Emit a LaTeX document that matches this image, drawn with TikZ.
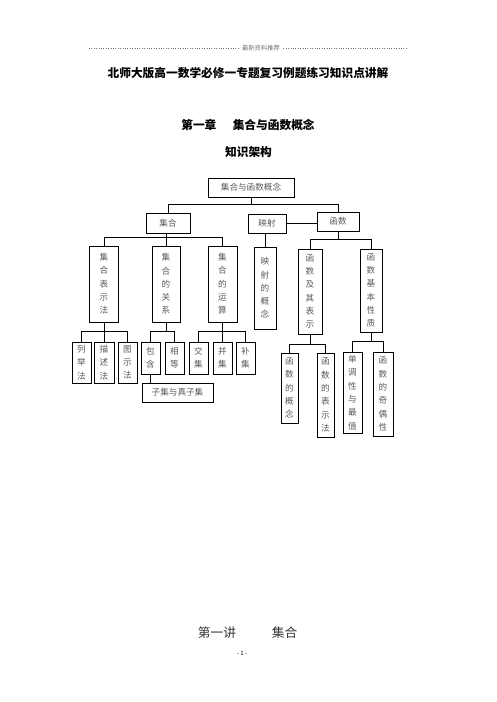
\documentclass[tikz,border=0pt]{standalone}
\usepackage{fontspec}
\setmainfont{Noto Sans CJK SC}
\usepackage{xcolor}
\definecolor{boxtext}{gray}{0.35}
\definecolor{headgray}{gray}{0.45}

\begin{document}
\begin{tikzpicture}[
    x=1pt, y=-1pt,
    box/.style={draw, line width=1pt, inner sep=0pt, align=center, text=boxtext,
        font=\fontsize{8.6}{13.3}\selectfont},
    vbox/.style={box, minimum width=#1},
    link/.style={line width=0.8pt},
    heading/.style={font=\fontsize{11.7}{14}\selectfont\bfseries}
]
\useasboundingbox (0,0) rectangle (496,702);

% page head
\node (head) at (261,48) {\textcolor{headgray}{\fontsize{6.3}{7}\selectfont 最新资料推荐}};
\draw[dotted, headgray] (89,48) -- (head.west);
\draw[dotted, headgray] (head.east) -- (407,48);

\node[heading] (title) at (248,73) {北师大版高一数学必修一专题复习例题练习知识点讲解};
\node[heading] (chapter) at (248,125) {第一章\hspace{1.4em}集合与函数概念};
\node[heading] (frame) at (248.5,152) {知识架构};

% bus levels
\coordinate (lv1) at (0,204);
\coordinate (lv2) at (0,237);
\coordinate (lv2r) at (0,239);
\coordinate (lv3) at (0,331);
\coordinate (lv4) at (0,344);
\coordinate (lv4r) at (0,341);

% level 0 and 1
\node[box, minimum width=86, minimum height=19] (top) at (251,187.5) {集合与函数概念};
\node[box, minimum width=44, minimum height=20] (jihe) at (168,223) {集合};
\node[box, minimum width=38, minimum height=19] (yingshe) at (267,223.5) {映射};
\node[box, minimum width=42, minimum height=19] (hanshu) at (338,221.5) {函数};

% level 2
\node[vbox=29, minimum height=76] (bsf) at (104,284) {集\\合\\表\\示\\法};
\node[vbox=28, minimum height=76] (gx) at (166,284) {集\\合\\的\\关\\系};
\node[vbox=29, minimum height=76] (ys) at (222.5,284) {集\\合\\的\\运\\算};
\node[vbox=22, minimum height=82] (ysgn) at (265,288) {映\\射\\的\\概\\念};
\node[vbox=24, minimum height=85] (hsbs) at (310,291.5) {函\\数\\及\\其\\表\\示};
\node[vbox=22, minimum height=83] (hsxz) at (371,290.5) {函\\数\\基\\本\\性\\质};

% level 3
\node[vbox=19, minimum height=41] (ljf) at (81.5,362.5) {列\\举\\法};
\node[vbox=20, minimum height=41] (msf) at (104,362.5) {描\\述\\法};
\node[vbox=19, minimum height=41] (tsf) at (127.5,362.5) {图\\示\\法};
\node[vbox=19, minimum height=32] (bh) at (150.5,358) {包\\含};
\node[vbox=19, minimum height=32] (xd) at (174.5,358) {相\\等};
\node[vbox=19, minimum height=32] (jj) at (198.5,358) {交\\集};
\node[vbox=19, minimum height=32] (bj) at (222.5,358) {并\\集};
\node[vbox=19, minimum height=32] (buj) at (245.5,358) {补\\集};
\node[box, minimum width=71, minimum height=19] (zj) at (177.5,392.5) {子集与真子集};
\node[vbox=17, minimum height=70] (hsgn) at (289.5,388) {函\\数\\的\\概\\念};
\node[vbox=17, minimum height=84] (hsbsf) at (325.5,395) {函\\数\\的\\表\\示\\法};
\node[vbox=19, minimum height=81] (ddx) at (352.5,392.5) {单\\调\\性\\与\\最\\值};
\node[vbox=20, minimum height=84] (jox) at (383,394) {函\\数\\的\\奇\\偶\\性};

% connectors
\draw[link] (top.south) -- (top.south |- lv1);
\draw[link] (jihe.north) |- (lv1 -| hanshu.north) -- (hanshu.north);
\draw[link] (yingshe.east) -- (yingshe.east -| hanshu.west);
\draw[link] (ysgn.north) -- (ysgn.north |- yingshe.south);

\draw[link] (gx.north) -- (gx.north |- jihe.south);
\draw[link] (bsf.north) |- (lv2 -| ys.north) -- (ys.north);
\draw[link] (hanshu.south) -- (hanshu.south |- lv2r);
\draw[link] (hsbs.north) |- (lv2r -| hsxz.north) -- (hsxz.north);

\draw[link] (bsf.south) -- (msf.north);
\draw[link] (ljf.north) |- (lv3 -| tsf.north) -- (tsf.north);
\draw[link] (gx.south) -- (gx.south |- lv3);
\draw[link] (bh.north) |- (lv3 -| xd.north) -- (xd.north);
\draw[link] (ys.south) -- (bj.north);
\draw[link] (jj.north) |- (lv3 -| buj.north) -- (buj.north);
\draw[link] (bh.south) -- (bh.south |- zj.north);

\draw[link] (hsbs.south) -- (hsbs.south |- lv4);
\draw[link] (hsgn.north) |- (lv4 -| hsbsf.north) -- (hsbsf.north);
\draw[link] (hsxz.south) -- (hsxz.south |- lv4r);
\draw[link] (ddx.north) |- (lv4r -| jox.north) -- (jox.north);

% next section
\node[font=\fontsize{12.7}{15}\selectfont, text=black!80] (lecture) at (217,633) {第一讲};
\node[font=\fontsize{12.7}{15}\selectfont, text=black!80] (lecturename) at (284.5,633) {集合};
\node[font=\fontsize{6}{7}\selectfont] (page) at (242,653) {- 1 -};
\end{tikzpicture}
\end{document}
